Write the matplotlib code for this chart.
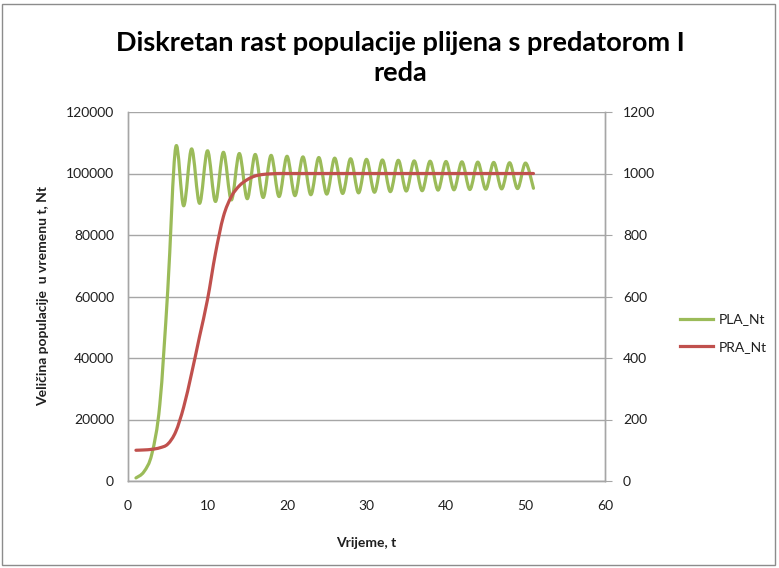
import matplotlib
matplotlib.use("Agg")
import matplotlib.pyplot as plt
import numpy as np
from matplotlib.path import Path
from matplotlib.patches import PathPatch, Rectangle
from matplotlib.lines import Line2D

plt.rcParams['font.family'] = ['Lato', 'DejaVu Sans']

t = list(range(1, 52))
pla_nt = [1000, 3000, 8800, 24800, 62000, 108500, 89500, 108000, 90300, 107400,
          90900, 106900, 91400, 106500, 91800, 106200, 92200, 105900, 92500, 105600,
          92800, 105400, 93100, 105200, 93300, 105000, 93500, 104800, 93700, 104600,
          93900, 104400, 94100, 104300, 94300, 104100, 94400, 104000, 94600, 103900,
          94700, 103800, 94800, 103700, 94900, 103600, 95000, 103500, 95100, 103400,
          95200]
pra_nt = [100, 101, 103, 108, 120, 160, 240, 350, 470, 590, 740, 860, 925, 960,
          980, 992, 997, 999] + [1000] * 33

left_ticks = [0, 20000, 40000, 60000, 80000, 100000, 120000]
right_ticks = [0, 200, 400, 600, 800, 1000, 1200]
x_ticks = [0, 10, 20, 30, 40, 50, 60]

green = '#9BBB59'
red = '#C0504D'
grid_c = '#A6A6A6'
txt = '#1f1f1f'


def smooth_path(x, y):
    # bezier segments like a spreadsheet "smoothed line"
    x = np.asarray(x, float)
    y = np.asarray(y, float)
    px = np.concatenate([[x[0]], x, [x[-1]]])
    py = np.concatenate([[y[0]], y, [y[-1]]])
    verts = [(x[0], y[0])]
    codes = [Path.MOVETO]
    for i in range(1, len(x)):
        c1 = (px[i] + (px[i + 1] - px[i - 1]) / 6, py[i] + (py[i + 1] - py[i - 1]) / 6)
        c2 = (px[i + 1] - (px[i + 2] - px[i]) / 6, py[i + 1] - (py[i + 2] - py[i]) / 6)
        verts += [c1, c2, (px[i + 1], py[i + 1])]
        codes += [Path.CURVE4] * 3
    return Path(verts, codes)


fig = plt.figure(figsize=(7.79, 5.68), dpi=100)
ax = fig.add_axes([128 / 779, 1 - 481 / 568, 477 / 779, 369 / 568])
ax2 = ax.twinx()

ax.set_xlim(0, 60)
ax.set_ylim(0, 120000)
ax2.set_ylim(0, 1200)
ax.set_xticks(x_ticks)
ax.set_yticks(left_ticks)
ax2.set_yticks(right_ticks)

ax.add_patch(PathPatch(smooth_path(t, pla_nt), facecolor='none', edgecolor=green,
                       lw=2.3, capstyle='round', joinstyle='round'))
ax2.add_patch(PathPatch(smooth_path(t, pra_nt), facecolor='none', edgecolor=red,
                        lw=2.3, capstyle='round', joinstyle='round'))

ax.grid(axis='y', color=grid_c, lw=1)
ax.set_axisbelow(True)
for a in (ax, ax2):
    a.spines['top'].set_visible(False)
    for s in ('left', 'right', 'bottom'):
        a.spines[s].set_color(grid_c)
        a.spines[s].set_linewidth(1)
ax.tick_params(axis='both', length=0, labelsize=10, colors=txt, pad=10)
ax.tick_params(axis='x', pad=14)
ax2.tick_params(axis='y', length=5, color=grid_c, labelsize=10, labelcolor=txt, pad=8)

ax.set_xlabel('Vrijeme, t', fontsize=10, fontweight='bold', color=txt, labelpad=18)
ax.set_ylabel('Veličina populacije  u vremenu t, Nt', fontsize=10, fontweight='bold',
               color=txt, labelpad=12)

fig.text(0.5135, 1 - 58 / 568, 'Diskretan rast populacije plijena s predatorom I\nreda',
         ha='center', va='center', fontsize=19.5, fontweight='bold', color='black',
         linespacing=1.3)

handles = [Line2D([], [], color=green, lw=2.3), Line2D([], [], color=red, lw=2.3)]
fig.legend(handles, ['PLA_Nt', 'PRA_Nt'], loc='center left',
           bbox_to_anchor=(667 / 779, 1 - 333 / 568), frameon=False, fontsize=10,
           handlelength=2.4, labelspacing=1.1, handletextpad=0.4, labelcolor=txt)

fig.patches.append(Rectangle((2 / 779, 3 / 568), 773 / 779, 561 / 568,
                             transform=fig.transFigure, fill=False,
                             edgecolor='#8c8c8c', lw=1))

fig.savefig('out.png', dpi=100, facecolor='white')
